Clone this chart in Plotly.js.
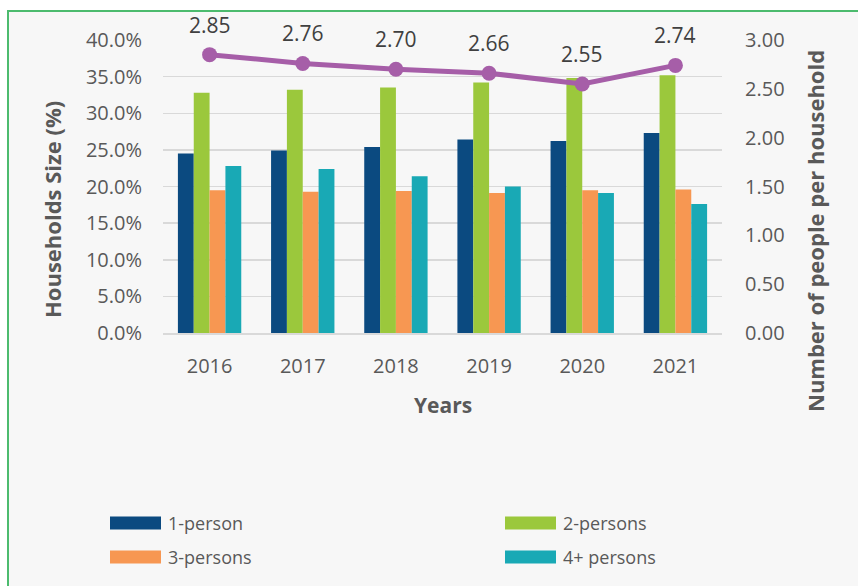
<!DOCTYPE html>
<html>
<head>
<meta charset="utf-8">
<script src="https://cdn.plot.ly/plotly-3.0.1.min.js"></script>
<style>html,body{margin:0;padding:0;background:#fff;}#chart{width:858px;height:586px;}</style>
</head>
<body>
<div id="chart"></div>
<script>
const years = ['2016', '2017', '2018', '2019', '2020', '2021'];
const onePerson = [0.245, 0.249, 0.254, 0.264, 0.262, 0.273];
const twoPersons = [0.328, 0.332, 0.335, 0.342, 0.348, 0.352];
const threePersons = [0.195, 0.193, 0.194, 0.191, 0.195, 0.196];
const fourPlusPersons = [0.228, 0.224, 0.214, 0.200, 0.191, 0.176];
const peoplePerHousehold = [2.85, 2.76, 2.70, 2.66, 2.55, 2.74];
const leftTicks = [0, 0.05, 0.10, 0.15, 0.20, 0.25, 0.30, 0.35, 0.40];
const rightTicks = [0, 0.5, 1.0, 1.5, 2.0, 2.5, 3.0];
const seriesNames = ['1-person', '2-persons', '3-persons', '4+ persons'];
const seriesColors = ['#0B4A80', '#9BC83C', '#F79752', '#19A9B5'];

const FONT = '"Open Sans", "DejaVu Sans", sans-serif';
const GREY = '#595959';

const seriesValues = [onePerson, twoPersons, threePersons, fourPlusPersons];
const traces = seriesValues.map((vals, i) => ({
  type: 'bar', name: seriesNames[i], x: years, y: vals,
  marker: {color: seriesColors[i]}, hoverinfo: 'skip', showlegend: false
}));
traces.push({
  type: 'scatter', mode: 'lines+markers', name: 'Number of people per household',
  x: years, y: peoplePerHousehold, yaxis: 'y2', showlegend: false,
  line: {color: '#A65EA8', width: 5}, marker: {color: '#A65EA8', size: 15},
  cliponaxis: false
});

const L = 163, R = 722, T = 40, B = 333;
const W = R - L, H = B - T;
const px = x => (x - L) / W;
const py = y => (B - y) / H;

// manual legend (2 columns x 2 rows)
const legendCols = [110, 505];
const legendRows = [523, 557];
const shapes = [
  {type: 'rect', xref: 'paper', yref: 'paper', layer: 'below',
   x0: px(8), x1: px(880), y0: py(610), y1: py(11),
   fillcolor: '#F7F7F7', line: {color: '#4CBB6E', width: 2}}
];
const annotations = [
  {text: '<b>Households Size (%)</b>', xref: 'paper', yref: 'paper', x: px(52), y: py(210),
   xanchor: 'center', yanchor: 'middle',
   textangle: -90, showarrow: false, font: {family: FONT, size: 22, color: GREY}},
  {text: '<b>Number of people per household</b>', xref: 'paper', yref: 'paper', x: px(815), y: py(231),
   xanchor: 'center', yanchor: 'middle',
   textangle: -90, showarrow: false, font: {family: FONT, size: 22, color: GREY}},
  {text: '<b>Years</b>', xref: 'paper', yref: 'paper', x: px(443), y: py(405),
   xanchor: 'center', yanchor: 'middle',
   showarrow: false, font: {family: FONT, size: 21, color: GREY}}
];
// data labels above each point of the line (x given as category index)
years.forEach((yr, i) => {
  annotations.push({text: peoplePerHousehold[i].toFixed(2), x: i, y: peoplePerHousehold[i],
    xref: 'x', yref: 'y2', yshift: 30, xanchor: 'center', yanchor: 'middle', showarrow: false,
    font: {family: FONT, size: 21, color: '#404040'}});
});
seriesNames.forEach((name, i) => {
  const cx = legendCols[i % 2], cy = legendRows[Math.floor(i / 2)];
  shapes.push({type: 'rect', xref: 'paper', yref: 'paper', layer: 'above',
    x0: px(cx), x1: px(cx + 51), y0: py(cy + 6.5), y1: py(cy - 6.5),
    fillcolor: seriesColors[i], line: {width: 0}});
  annotations.push({text: name, xref: 'paper', yref: 'paper', x: px(cx + 56), y: py(cy),
    xanchor: 'left', yanchor: 'middle', showarrow: false,
    font: {family: FONT, size: 18, color: GREY}});
});

const layout = {
  width: 858, height: 586,
  margin: {l: L, r: 858 - R, t: T, b: 586 - B, autoexpand: false},
  paper_bgcolor: '#FFFFFF',
  plot_bgcolor: 'rgba(0,0,0,0)',
  font: {family: FONT, color: GREY, size: 20},
  barmode: 'group', bargap: 0.32, bargroupgap: 0,
  showlegend: false,
  xaxis: {type: 'category', categoryarray: years, range: [-0.5, years.length - 0.5],
          showgrid: false, showline: true, linecolor: '#D9D9D9', linewidth: 1.5,
          ticks: '', tickfont: {family: FONT, size: 20, color: GREY}, ticklabelstandoff: 14,
          automargin: false},
  yaxis: {range: [0, 0.40], tickvals: leftTicks, tickformat: '.1%', showgrid: true,
          gridcolor: '#D9D9D9', gridwidth: 1.5, zeroline: false, showline: false, ticks: '',
          tickfont: {family: FONT, size: 20, color: GREY}, ticklabelstandoff: 20, automargin: false},
  yaxis2: {range: [0, 3.0], tickvals: rightTicks, tickformat: '.2f', overlaying: 'y', side: 'right',
           showgrid: false, zeroline: false, showline: false, ticks: '',
           tickfont: {family: FONT, size: 20, color: GREY}, ticklabelstandoff: 22, automargin: false},
  shapes: shapes,
  annotations: annotations
};

Plotly.newPlot('chart', traces, layout, {displayModeBar: false, staticPlot: true});
</script>
</body>
</html>
